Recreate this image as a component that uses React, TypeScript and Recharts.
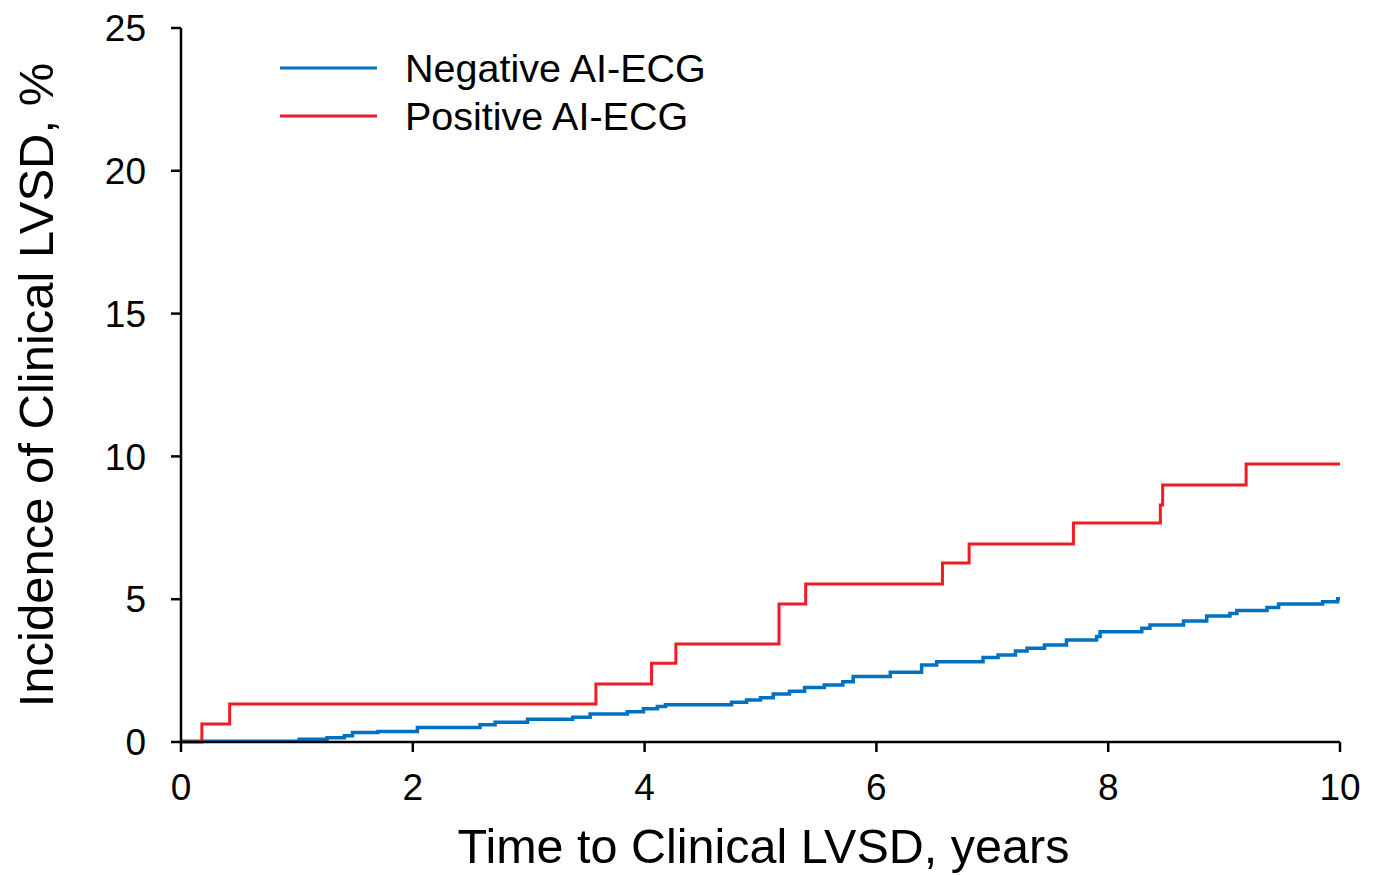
import React from 'react';
import { LineChart, Line, XAxis, YAxis, Legend } from 'recharts';

// Positive AI-ECG (red) — step times (years) and cumulative incidence (%)
const positiveTimes = [0, 0.18, 0.42, 3.58, 4.06, 4.27, 5.16, 5.39, 6.57, 6.8, 7.7, 8.45, 8.47, 9.19, 10.02];
const positiveValues = [0, 0.63, 1.33, 2.03, 2.76, 3.43, 4.83, 5.53, 6.27, 6.93, 7.67, 8.3, 9.0, 9.73, 9.73];

// Negative AI-ECG (blue)
const negativeTimes = [
  0, 1.02, 1.26, 1.41, 1.48, 1.7, 2.04, 2.58, 2.71, 2.99, 3.38, 3.53, 3.85, 3.99, 4.11, 4.18,
  4.75, 4.88, 5.0, 5.11, 5.25, 5.38, 5.55, 5.71, 5.8, 6.12, 6.39, 6.52, 6.92, 7.05, 7.2, 7.3,
  7.45, 7.64, 7.9, 7.93, 8.29, 8.36, 8.65, 8.85, 9.05, 9.11, 9.37, 9.47, 9.85, 9.98, 10.0,
];
const negativeValues = [
  0.03, 0.1, 0.15, 0.22, 0.33, 0.37, 0.51, 0.6, 0.69, 0.8, 0.87, 0.98, 1.06, 1.16, 1.24, 1.3,
  1.39, 1.47, 1.55, 1.68, 1.78, 1.91, 2.0, 2.11, 2.29, 2.44, 2.7, 2.81, 2.96, 3.05, 3.19, 3.28,
  3.4, 3.57, 3.69, 3.86, 3.98, 4.1, 4.24, 4.41, 4.5, 4.6, 4.71, 4.83, 4.91, 5.02, 5.02,
];

const xTicks = [0, 2, 4, 6, 8, 10];
const yTicks = [0, 5, 10, 15, 20, 25];

const seriesNames = ['Negative AI-ECG', 'Positive AI-ECG'];
const seriesColors = ['#0070C0', '#EE1C24'];

const xLabel = 'Time to Clinical LVSD, years';
const yLabel = 'Incidence of Clinical LVSD, %';

const FONT = '"Liberation Sans", Arial, Helvetica, sans-serif';

const negativeData = negativeTimes.map((t, i) => ({ x: t, y: negativeValues[i] }));
const positiveData = positiveTimes.map((t, i) => ({ x: t, y: positiveValues[i] }));

const renderLegend = () => (
  <svg width={760} height={150} style={{ display: 'block' }}>
    {seriesNames.map((name, i) => {
      const cy = 68 + 48 * i;
      return (
        <g key={name}>
          <line x1={280} x2={377} y1={cy} y2={cy} stroke={seriesColors[i]} strokeWidth={3} />
          <text x={405} y={cy} dy="0.36em" fontSize={39.5} fontFamily={FONT} fill="#000">
            {name}
          </text>
        </g>
      );
    })}
  </svg>
);

const renderXLabel = (props: any) => {
  const vb = props.viewBox || {};
  const cx = vb.x + vb.width / 2 + 3;
  return (
    <text x={cx} y={863} textAnchor="middle" fontSize={48.5} fontFamily={FONT} fill="#000">
      {xLabel}
    </text>
  );
};

const renderYLabel = (props: any) => {
  const vb = props.viewBox || {};
  const cy = vb.y + vb.height / 2;
  const cx = 53;
  return (
    <text
      x={cx}
      y={cy}
      transform={`rotate(-90, ${cx}, ${cy})`}
      textAnchor="middle"
      fontSize={49}
      fontFamily={FONT}
      fill="#000"
    >
      {yLabel}
    </text>
  );
};

export default function App() {
  return (
    <div style={{ position: 'absolute', left: 0, top: 0, background: '#fff' }}>
      <LineChart width={1378} height={875} margin={{ top: 28, right: 38, bottom: 0, left: 0 }}>
        <XAxis
          type="number"
          dataKey="x"
          domain={[0, 10]}
          ticks={xTicks}
          allowDataOverflow
          height={133}
          tickSize={10}
          tickMargin={22}
          axisLine={{ stroke: '#000', strokeWidth: 2.5 }}
          tickLine={{ stroke: '#000', strokeWidth: 2.5 }}
          tick={{ fontSize: 37, fill: '#000', fontFamily: FONT }}
          label={renderXLabel}
        />
        <YAxis
          type="number"
          dataKey="y"
          domain={[0, 25]}
          ticks={yTicks}
          width={181}
          tickSize={10}
          tickMargin={25}
          axisLine={{ stroke: '#000', strokeWidth: 2.5 }}
          tickLine={{ stroke: '#000', strokeWidth: 2.5 }}
          tick={{ fontSize: 37, fill: '#000', fontFamily: FONT }}
          label={renderYLabel}
        />
        <Legend
          layout="horizontal"
          verticalAlign="middle"
          align="center"
          content={renderLegend}
          wrapperStyle={{ left: 0, top: 0, width: 760, height: 150 }}
        />
        <Line
          data={negativeData}
          dataKey="y"
          name={seriesNames[0]}
          type="stepAfter"
          stroke={seriesColors[0]}
          strokeWidth={3.5}
          dot={false}
          activeDot={false}
          isAnimationActive={false}
        />
        <Line
          data={positiveData}
          dataKey="y"
          name={seriesNames[1]}
          type="stepAfter"
          stroke={seriesColors[1]}
          strokeWidth={3}
          dot={false}
          activeDot={false}
          isAnimationActive={false}
        />
      </LineChart>
    </div>
  );
}
